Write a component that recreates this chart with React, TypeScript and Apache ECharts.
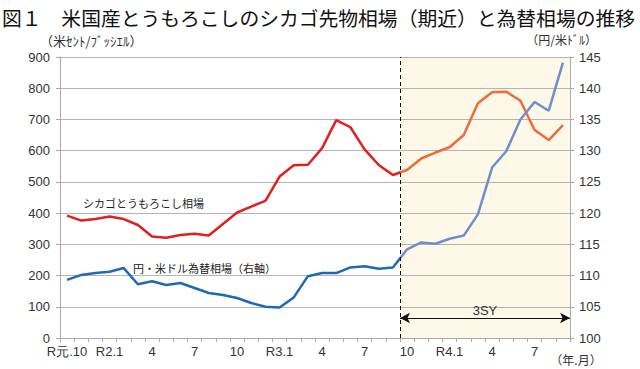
import React, { useEffect, useRef } from "react";
import * as echarts from "echarts";

const categories = [
  "R元.10", "11", "12", "R2.1", "2", "3", "4", "5", "6", "7", "8", "9",
  "10", "11", "12", "R3.1", "2", "3", "4", "5", "6", "7", "8", "9",
  "10", "11", "12", "R4.1", "2", "3", "4", "5", "6", "7", "8", "9",
];
const cornPrice = [
  392, 376, 381, 389, 381, 362, 325, 321, 330, 334, 328, 365,
  402, 421, 439, 517, 553, 555, 608, 698, 675, 604, 554, 522,
  538, 575, 594, 611, 650, 752, 787, 789, 760, 666, 634, 682,
];
const yenRate = [
  109.3, 110.1, 110.4, 110.6, 111.2, 108.6, 109.1, 108.5, 108.8, 108.0, 107.2, 106.9,
  106.4, 105.6, 105.0, 104.9, 106.5, 109.9, 110.4, 110.4, 111.3, 111.5, 111.1, 111.3,
  114.2, 115.3, 115.1, 115.9, 116.4, 119.8, 127.3, 129.9, 135.0, 137.8, 136.4, 144.1,
];
const highlightStart = 24; // category index where the shaded 3SY period starts
const highlightEnd = 36;
const arrowLevel = 64; // left-axis value for the 3SY arrow

const CJK = '"Noto Sans CJK JP", sans-serif';
const NUM = '"Liberation Sans", Arial, sans-serif';

function splitGradient(c1: string, c2: string) {
  const p = (highlightStart - 0.5) / (categories.length - 1);
  return new echarts.graphic.LinearGradient(0, 0, 1, 0, [
    { offset: 0, color: c1 },
    { offset: p, color: c1 },
    { offset: p, color: c2 },
    { offset: 1, color: c2 },
  ]);
}

export default function App() {
  const ref = useRef<HTMLDivElement>(null);
  useEffect(() => {
    if (!ref.current) return;
    const chart = echarts.init(ref.current, null, { renderer: "svg" });
    const axisGray = "#a8a8a8";
    chart.setOption({
      animation: false,
      backgroundColor: "#ffffff",
      grid: { left: 60, right: 70, top: 57, bottom: 31 },
      xAxis: [
        {
          type: "category",
          data: categories,
          boundaryGap: true,
          z: 1.5,
          axisLine: { lineStyle: { color: axisGray, width: 1 } },
          axisTick: { show: true, interval: 0, length: 4, lineStyle: { color: axisGray } },
          axisLabel: {
            interval: 2,
            margin: 7,
            color: "#333",
            fontSize: 13,
            fontFamily: NUM,
          },
        },
        { type: "value", min: 0, max: highlightEnd, show: false },
      ],
      yAxis: [
        {
          type: "value",
          min: 0,
          max: 900,
          interval: 100,
          z: 1.5,
          axisLine: { show: true, lineStyle: { color: axisGray } },
          axisTick: { show: true, length: 4, lineStyle: { color: axisGray } },
          axisLabel: { margin: 10, color: "#333", fontSize: 13, fontFamily: NUM },
          splitLine: { show: true, lineStyle: { color: "#b4b4b4", width: 1.2 } },
        },
        {
          type: "value",
          min: 100,
          max: 145,
          interval: 5,
          z: 1.5,
          axisLine: { show: true, lineStyle: { color: axisGray } },
          axisTick: { show: true, length: 4, lineStyle: { color: axisGray } },
          axisLabel: { margin: 9, color: "#333", fontSize: 13, fontFamily: NUM },
          splitLine: { show: false },
        },
      ],
      series: [
        {
          type: "line",
          data: cornPrice,
          yAxisIndex: 0,
          symbol: "none",
          lineStyle: { width: 2.5, color: splitGradient("#e0201e", "#ef6b3b") },
          z: 3,
        },
        {
          type: "line",
          data: yenRate,
          yAxisIndex: 1,
          symbol: "none",
          lineStyle: { width: 2.5, color: splitGradient("#1f68b3", "#6f8fcb") },
          z: 3,
        },
        {
          type: "line",
          xAxisIndex: 1,
          yAxisIndex: 0,
          data: [],
          markArea: {
            silent: true,
            z: 1,
            itemStyle: { color: "#fdf8e8" },
            data: [[{ xAxis: highlightStart }, { xAxis: highlightEnd }]],
          },
          markLine: {
            silent: true,
            symbol: ["none", "none"],
            label: { show: false },
            lineStyle: { color: "#111", type: [4, 3], width: 1 },
            data: [{ xAxis: highlightStart }],
          },
        },
        {
          type: "line",
          xAxisIndex: 1,
          yAxisIndex: 0,
          data: [],
          markLine: {
            silent: true,
            symbol: ["arrow", "arrow"],
            symbolSize: [8, 10],
            lineStyle: { color: "#111", type: "solid", width: 1 },
            label: {
              show: true,
              position: "middle",
              formatter: "3SY",
              color: "#333",
              fontSize: 13,
              fontFamily: NUM,
              distance: 1,
            },
            data: [[{ coord: [highlightStart, arrowLevel] }, { coord: [highlightEnd, arrowLevel] }]],
          },
        },
      ],
      graphic: [
        {
          type: "text",
          x: 2,
          y: 17,
          style: {
            text: "図１　米国産とうもろこしのシカゴ先物相場（期近）と為替相場の推移",
            font: `19.8px ${CJK}`,
            fill: "#111",
            textVerticalAlign: "middle",
          },
        },
        {
          type: "text",
          x: 40,
          y: 40,
          style: {
            text: "（米ｾﾝﾄ/ﾌﾞｯｼｴﾙ）",
            font: `13px ${CJK}`,
            fill: "#333",
            textVerticalAlign: "middle",
          },
        },
        {
          type: "text",
          x: 597,
          y: 39,
          style: {
            text: "（円/米ﾄﾞﾙ）",
            font: `12px ${CJK}`,
            fill: "#333",
            textAlign: "right",
            textVerticalAlign: "middle",
          },
        },
        {
          type: "text",
          x: 576,
          y: 359,
          style: {
            text: "（年.月）",
            font: `12px ${CJK}`,
            fill: "#333",
            textAlign: "center",
            textVerticalAlign: "middle",
          },
        },
        {
          type: "text",
          x: 83,
          y: 203,
          style: {
            text: "シカゴとうもろこし相場",
            font: `11px ${CJK}`,
            fill: "#222",
            textVerticalAlign: "middle",
          },
        },
        {
          type: "text",
          x: 133,
          y: 268,
          style: {
            text: "円・米ドル為替相場（右軸）",
            font: `11px ${CJK}`,
            fill: "#222",
            textVerticalAlign: "middle",
          },
        },
      ],
    });
    return () => chart.dispose();
  }, []);
  return <div ref={ref} style={{ width: 640, height: 369, position: "absolute", left: 0, top: 0 }} />;
}
